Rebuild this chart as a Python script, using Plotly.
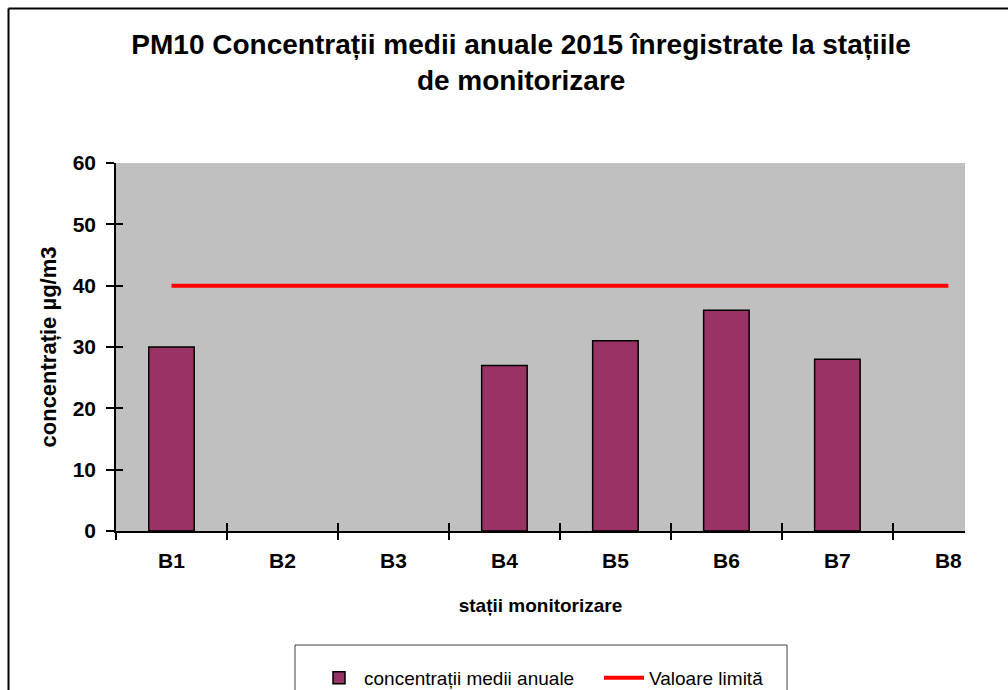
import plotly.graph_objects as go

# Stations and annual mean PM10 concentrations (µg/m3); None = no measurement
stations = ["B1", "B2", "B3", "B4", "B5", "B6", "B7", "B8"]
annual_mean = [30, None, None, 27, 31, 36, 28, None]
limit_value = [40, 40, 40, 40, 40, 40, 40, 40]

y_ticks = [0, 10, 20, 30, 40, 50, 60]

FONT = "Liberation Sans, Arial, sans-serif"
BAR_COLOR = "#993366"
LINE_COLOR = "#ff0000"

# plot-area geometry in pixels (for placing decorations in paper coordinates)
W, H = 1008, 690
L, R, T, B = 116, 43, 163, 159
PW, PH = W - L - R, H - T - B


def px_x(px):
    return (px - L) / PW


def px_y(py):
    return (H - B - py) / PH


fig = go.Figure()
fig.add_trace(go.Bar(
    x=stations, y=annual_mean, name="concentrații medii anuale",
    marker=dict(color=BAR_COLOR, line=dict(color="black", width=1.5)),
    width=0.41,
))
fig.add_trace(go.Scatter(
    x=stations, y=limit_value, name="Valoare limită", mode="lines",
    line=dict(color=LINE_COLOR, width=4),
))
# empty trace carrying the overlay axes that draw the inner halves of the ticks
fig.add_trace(go.Scatter(x=[], y=[], xaxis="x2", yaxis="y2", showlegend=False))

x_range = [-0.5, 7.15]

fig.update_layout(
    width=W, height=H,
    margin=dict(l=L, r=R, t=T, b=B),
    paper_bgcolor="white",
    plot_bgcolor="#c0c0c0",
    font=dict(family=FONT, color="black"),
    title=dict(
        text="<b>PM10 Concentrații medii anuale 2015 înregistrate la stațiile<br>de monitorizare</b>",
        x=0.517, xanchor="center", xref="container",
        y=1 - 54 / H, yanchor="middle", yref="container",
        font=dict(size=28, family=FONT),
    ),
    showlegend=True,
    legend=dict(
        orientation="h", xref="container", yref="container",
        x=314 / W, xanchor="left", y=1 - 678 / H, yanchor="middle",
        bgcolor="rgba(0,0,0,0)", font=dict(size=19, family=FONT),
        itemwidth=40, entrywidth=230, entrywidthmode="pixels",
    ),
    xaxis=dict(
        type="category", range=x_range, tickson="boundaries",
        ticks="outside", ticklen=7, tickwidth=1.5, tickcolor="black",
        showline=True, linecolor="black", linewidth=1.5,
        showgrid=False, zeroline=False,
        tickfont=dict(size=21, family=FONT, weight="bold"),
        ticklabelstandoff=10,
        title=dict(text="<b>stații monitorizare</b>", font=dict(size=19, family=FONT), standoff=28),
    ),
    yaxis=dict(
        range=[0, 60], tickmode="array", tickvals=y_ticks,
        ticks="outside", ticklen=8, tickwidth=1.5, tickcolor="black",
        showline=True, linecolor="black", linewidth=1.5,
        showgrid=False, zeroline=False,
        tickfont=dict(size=21, family=FONT, weight="bold"),
        ticklabelstandoff=6,
        title=dict(text="<b>concentrație µg/m3</b>", font=dict(size=22, family=FONT), standoff=10),
    ),
    xaxis2=dict(
        overlaying="x", anchor="y2", range=x_range,
        tickmode="array", tickvals=[-0.5 + i for i in range(8)],
        ticks="inside", ticklen=8, tickwidth=1.5, tickcolor="black",
        showticklabels=False, showgrid=False, zeroline=False, showline=False,
    ),
    yaxis2=dict(
        overlaying="y", anchor="x2", range=[0, 60],
        tickmode="array", tickvals=y_ticks,
        ticks="inside", ticklen=7, tickwidth=1.5, tickcolor="black",
        showticklabels=False, showgrid=False, zeroline=False, showline=False,
    ),
    shapes=[
        # outer chart frame (left and top edges)
        dict(type="line", xref="paper", yref="paper",
             x0=px_x(8.5), x1=px_x(8.5), y0=px_y(8.5), y1=px_y(720),
             line=dict(color="black", width=2)),
        dict(type="line", xref="paper", yref="paper",
             x0=px_x(8.5), x1=px_x(1040), y0=px_y(8.5), y1=px_y(8.5),
             line=dict(color="black", width=2)),
        # legend frame
        dict(type="rect", xref="paper", yref="paper",
             x0=px_x(295), x1=px_x(787), y0=px_y(720), y1=px_y(645),
             line=dict(color="#404040", width=1)),
    ],
)

fig.write_html("out.html")
